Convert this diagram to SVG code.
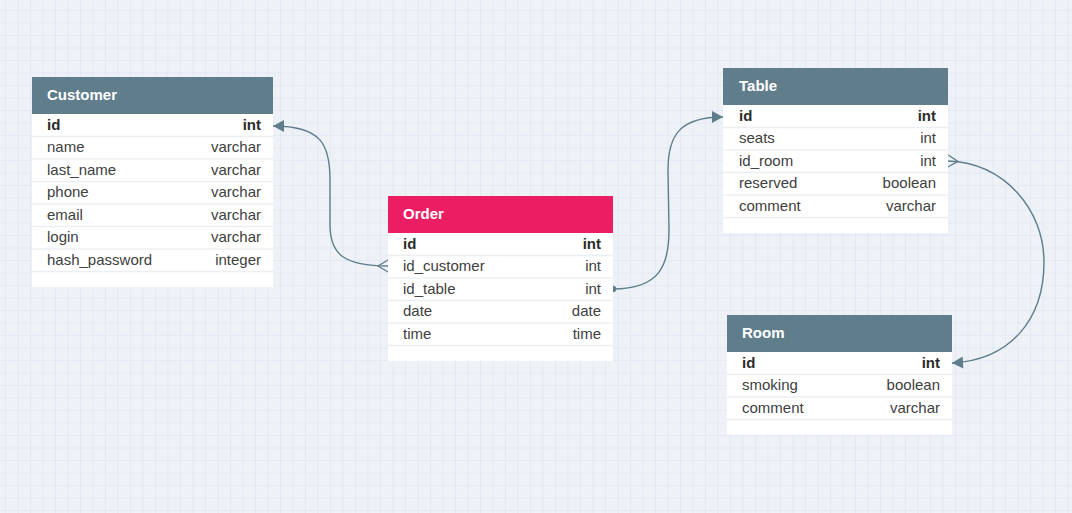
<svg xmlns="http://www.w3.org/2000/svg" width="1072" height="513" viewBox="0 0 1072 513">
  <defs>
    <pattern id="grid" patternUnits="userSpaceOnUse" x="5" y="10" width="12.5" height="12.5">
      <path d="M0,0 V12.5 M0,0 H12.5" fill="none" stroke="#d5e1f4" stroke-width="1"/>
    </pattern>
    <marker id="arrow" markerUnits="userSpaceOnUse" viewBox="-12 -7 14 14" refX="0" refY="0" markerWidth="14" markerHeight="14" orient="auto">
      <path d="M-11,-6 L0,0 L-11,6 Z" fill="#607d8b"/>
    </marker>
    <marker id="crowfoot" markerUnits="userSpaceOnUse" viewBox="-2 -8 14 16" refX="0" refY="0" markerWidth="14" markerHeight="16" orient="auto">
      <path d="M0,-6 L10,0 L0,6" fill="none" stroke="#607d8b" stroke-width="1.3"/>
    </marker>
    <marker id="dot" markerUnits="userSpaceOnUse" viewBox="-5 -5 10 10" refX="0" refY="0" markerWidth="10" markerHeight="10" orient="auto">
      <circle cx="0" cy="0" r="3.2" fill="#607d8b"/>
    </marker>
  </defs>
  <style>
    .box { fill: #ffffff; }
    .head { fill: #607d8b; }
    .head-pink { fill: #ec1e63; }
    .title { font-family: "Liberation Sans", Arial, sans-serif; font-size: 15px; font-weight: bold; fill: #ffffff; }
    .col { font-family: "Liberation Sans", Arial, sans-serif; font-size: 15px; fill: #404040; }
    .type { font-family: "Liberation Sans", Arial, sans-serif; font-size: 15px; fill: #404040; text-anchor: end; }
    .pk { font-weight: bold; fill: #2b2b2b; }
    .sep { stroke: #eceff1; stroke-width: 1.5; }
    .link { fill: none; stroke: #607d8b; stroke-width: 1.4; }
  </style>

  <!-- background grid -->
  <rect x="0" y="0" width="1072" height="513" fill="#eef2f6"/>
  <rect x="0" y="0" width="1072" height="513" fill="url(#grid)"/>

  <!-- relationships -->
  <g id="connectors">
    <path class="link" d="M388,266 C345,266 330,255 330,225 L330,180 C330,145 322,126 273,126" marker-start="url(#crowfoot)" marker-end="url(#arrow)"/>
    <path class="link" d="M613,289 C660,289 669,265 669,230 L668,170 C668,135 680,117 723,117" marker-start="url(#dot)" marker-end="url(#arrow)"/>
    <path class="link" d="M948,161 C1005,163 1044,210 1044,262 C1044,320 1010,360 952,363" marker-start="url(#crowfoot)" marker-end="url(#arrow)"/>
  </g>

  <!-- Customer -->
  <g id="customer">
    <rect class="box" x="32" y="77" width="241" height="210"/>
    <rect class="head" x="32" y="77" width="241" height="37"/>
    <text class="title" x="47" y="100">Customer</text>
    <line class="sep" x1="32" y1="136.5" x2="273" y2="136.5"/>
    <line class="sep" x1="32" y1="159" x2="273" y2="159"/>
    <line class="sep" x1="32" y1="181.5" x2="273" y2="181.5"/>
    <line class="sep" x1="32" y1="204" x2="273" y2="204"/>
    <line class="sep" x1="32" y1="226.5" x2="273" y2="226.5"/>
    <line class="sep" x1="32" y1="249" x2="273" y2="249"/>
    <line class="sep" x1="32" y1="271.5" x2="273" y2="271.5"/>
    <text class="col pk" x="47" y="130">id</text><text class="type pk" x="261" y="130">int</text>
    <text class="col" x="47" y="152">name</text><text class="type" x="261" y="152">varchar</text>
    <text class="col" x="47" y="174.5">last_name</text><text class="type" x="261" y="174.5">varchar</text>
    <text class="col" x="47" y="197">phone</text><text class="type" x="261" y="197">varchar</text>
    <text class="col" x="47" y="219.5">email</text><text class="type" x="261" y="219.5">varchar</text>
    <text class="col" x="47" y="242">login</text><text class="type" x="261" y="242">varchar</text>
    <text class="col" x="47" y="264.5">hash_password</text><text class="type" x="261" y="264.5">integer</text>
  </g>

  <!-- Order -->
  <g id="order">
    <rect class="box" x="388" y="196" width="225" height="165"/>
    <rect class="head-pink" x="388" y="196" width="225" height="37"/>
    <text class="title" x="403" y="219">Order</text>
    <line class="sep" x1="388" y1="255.5" x2="613" y2="255.5"/>
    <line class="sep" x1="388" y1="278" x2="613" y2="278"/>
    <line class="sep" x1="388" y1="300.5" x2="613" y2="300.5"/>
    <line class="sep" x1="388" y1="323" x2="613" y2="323"/>
    <line class="sep" x1="388" y1="345.5" x2="613" y2="345.5"/>
    <text class="col pk" x="403" y="249">id</text><text class="type pk" x="601" y="249">int</text>
    <text class="col" x="403" y="271">id_customer</text><text class="type" x="601" y="271">int</text>
    <text class="col" x="403" y="293.5">id_table</text><text class="type" x="601" y="293.5">int</text>
    <text class="col" x="403" y="316">date</text><text class="type" x="601" y="316">date</text>
    <text class="col" x="403" y="338.5">time</text><text class="type" x="601" y="338.5">time</text>
  </g>

  <!-- Table -->
  <g id="table">
    <rect class="box" x="723" y="68" width="225" height="165"/>
    <rect class="head" x="723" y="68" width="225" height="37"/>
    <text class="title" x="739" y="91">Table</text>
    <line class="sep" x1="723" y1="127.5" x2="948" y2="127.5"/>
    <line class="sep" x1="723" y1="150" x2="948" y2="150"/>
    <line class="sep" x1="723" y1="172.5" x2="948" y2="172.5"/>
    <line class="sep" x1="723" y1="195" x2="948" y2="195"/>
    <line class="sep" x1="723" y1="217.5" x2="948" y2="217.5"/>
    <text class="col pk" x="739" y="121">id</text><text class="type pk" x="936" y="121">int</text>
    <text class="col" x="739" y="143">seats</text><text class="type" x="936" y="143">int</text>
    <text class="col" x="739" y="165.5">id_room</text><text class="type" x="936" y="165.5">int</text>
    <text class="col" x="739" y="188">reserved</text><text class="type" x="936" y="188">boolean</text>
    <text class="col" x="739" y="210.5">comment</text><text class="type" x="936" y="210.5">varchar</text>
  </g>

  <!-- Room -->
  <g id="room">
    <rect class="box" x="727" y="315" width="225" height="120"/>
    <rect class="head" x="727" y="315" width="225" height="37"/>
    <text class="title" x="742" y="338">Room</text>
    <line class="sep" x1="727" y1="374.5" x2="952" y2="374.5"/>
    <line class="sep" x1="727" y1="397" x2="952" y2="397"/>
    <line class="sep" x1="727" y1="419.5" x2="952" y2="419.5"/>
    <text class="col pk" x="742" y="368">id</text><text class="type pk" x="940" y="368">int</text>
    <text class="col" x="742" y="390">smoking</text><text class="type" x="940" y="390">boolean</text>
    <text class="col" x="742" y="412.5">comment</text><text class="type" x="940" y="412.5">varchar</text>
  </g>
</svg>
